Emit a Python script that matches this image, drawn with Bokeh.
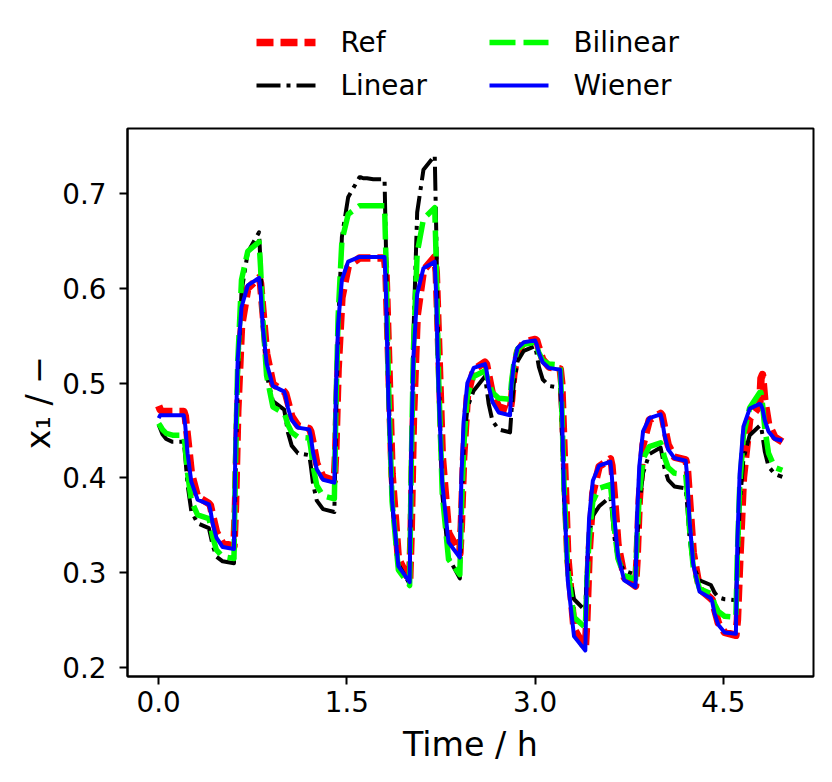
from bokeh.plotting import figure
from bokeh.layouts import column
from bokeh.models import Range1d, FixedTicker, PrintfTickFormatter
from bokeh.core.properties import value
from bokeh.embed import file_html
from bokeh.resources import INLINE

# ---------------- data ----------------
t_h = [
    0.0, 0.012, 0.03, 0.06, 0.11,
    0.2, 0.212, 0.23, 0.26, 0.31,
    0.4, 0.412, 0.43, 0.46, 0.51,
    0.6, 0.612, 0.63, 0.66, 0.71,
    0.8, 0.812, 0.83, 0.86, 0.91,
    1.0, 1.012, 1.03, 1.06, 1.11,
    1.2, 1.212, 1.23, 1.26, 1.31,
    1.4, 1.412, 1.43, 1.46, 1.51,
    1.6, 1.612, 1.63, 1.66, 1.71,
    1.8, 1.812, 1.83, 1.86, 1.91,
    2.0, 2.012, 2.03, 2.06, 2.11,
    2.2, 2.212, 2.23, 2.26, 2.31,
    2.4, 2.412, 2.43, 2.46, 2.51,
    2.6, 2.612, 2.63, 2.66, 2.71,
    2.8, 2.812, 2.83, 2.86, 2.91,
    3.0, 3.012, 3.03, 3.06, 3.11,
    3.2, 3.212, 3.23, 3.26, 3.31,
    3.4, 3.412, 3.43, 3.46, 3.51,
    3.6, 3.612, 3.63, 3.66, 3.71,
    3.8, 3.812, 3.83, 3.86, 3.91,
    4.0, 4.012, 4.03, 4.06, 4.11,
    4.2, 4.212, 4.23, 4.26, 4.31,
    4.4, 4.412, 4.43, 4.46, 4.51,
    4.6, 4.612, 4.63, 4.66, 4.71, 4.79,
    4.8, 4.812, 4.83, 4.86, 4.91,
    4.97,
]

ref_x1 = [
    0.476, 0.472, 0.470, 0.470, 0.470,
    0.470, 0.465, 0.443, 0.405, 0.380,
    0.373, 0.371, 0.360, 0.343, 0.331,
    0.328, 0.370, 0.470, 0.560, 0.600,
    0.611, 0.605, 0.577, 0.531, 0.499,
    0.491, 0.489, 0.480, 0.465, 0.455,
    0.452, 0.449, 0.437, 0.415, 0.401,
    0.397, 0.432, 0.515, 0.590, 0.623,
    0.632, 0.632, 0.632, 0.632, 0.632,
    0.632, 0.615, 0.537, 0.404, 0.315,
    0.291, 0.342, 0.462, 0.571, 0.619,
    0.633, 0.617, 0.545, 0.423, 0.342,
    0.320, 0.350, 0.421, 0.486, 0.514,
    0.522, 0.520, 0.508, 0.488, 0.475,
    0.471, 0.482, 0.509, 0.533, 0.543,
    0.546, 0.545, 0.537, 0.525, 0.517,
    0.515, 0.500, 0.432, 0.317, 0.241,
    0.220, 0.250, 0.320, 0.384, 0.412,
    0.420, 0.413, 0.383, 0.330, 0.295,
    0.286, 0.313, 0.377, 0.435, 0.461,
    0.468, 0.466, 0.454, 0.435, 0.422,
    0.419, 0.412, 0.378, 0.321, 0.283,
    0.273, 0.271, 0.262, 0.247, 0.237,
    0.234, 0.250, 0.310, 0.400, 0.462, 0.476,
    0.505, 0.509, 0.482, 0.457, 0.443,
    0.438,
]

lin_x1 = [
    0.456, 0.452, 0.446, 0.441, 0.438,
    0.438, 0.422, 0.393, 0.365, 0.352,
    0.347, 0.340, 0.329, 0.317, 0.312,
    0.310, 0.397, 0.502, 0.596, 0.638,
    0.659, 0.625, 0.566, 0.509, 0.481,
    0.472, 0.463, 0.448, 0.434, 0.426,
    0.424, 0.413, 0.394, 0.376, 0.367,
    0.364, 0.452, 0.558, 0.654, 0.696,
    0.717, 0.717, 0.716, 0.716, 0.715,
    0.715, 0.638, 0.502, 0.373, 0.309,
    0.288, 0.400, 0.550, 0.680, 0.725,
    0.740, 0.660, 0.517, 0.383, 0.316,
    0.294, 0.360, 0.430, 0.474, 0.492,
    0.507, 0.496, 0.478, 0.460, 0.451,
    0.448, 0.471, 0.499, 0.523, 0.534,
    0.539, 0.531, 0.517, 0.504, 0.497,
    0.495, 0.453, 0.378, 0.307, 0.272,
    0.260, 0.300, 0.340, 0.360, 0.370,
    0.380, 0.365, 0.339, 0.314, 0.302,
    0.298, 0.330, 0.370, 0.405, 0.425,
    0.432, 0.424, 0.411, 0.398, 0.391,
    0.389, 0.371, 0.338, 0.307, 0.292,
    0.287, 0.284, 0.279, 0.274, 0.272,
    0.271, 0.310, 0.370, 0.420, 0.445, 0.455,
    0.455, 0.445, 0.428, 0.412, 0.404,
    0.401,
]

bil_x1 = [
    0.4575, 0.455, 0.451, 0.447, 0.445,
    0.445, 0.432, 0.405, 0.376, 0.361,
    0.357, 0.351, 0.338, 0.324, 0.317,
    0.315, 0.415, 0.522, 0.609, 0.639,
    0.649, 0.622, 0.568, 0.508, 0.475,
    0.468, 0.464, 0.456, 0.448, 0.443,
    0.442, 0.432, 0.413, 0.392, 0.381,
    0.378, 0.471, 0.570, 0.650, 0.678,
    0.687, 0.687, 0.687, 0.687, 0.687,
    0.687, 0.627, 0.507, 0.375, 0.303,
    0.2865, 0.406, 0.534, 0.637, 0.673,
    0.685, 0.627, 0.511, 0.383, 0.314,
    0.298, 0.363, 0.431, 0.487, 0.507,
    0.513, 0.509, 0.500, 0.490, 0.484,
    0.483, 0.501, 0.520, 0.536, 0.541,
    0.543, 0.539, 0.532, 0.524, 0.520,
    0.519, 0.477, 0.394, 0.303, 0.253,
    0.242, 0.288, 0.336, 0.375, 0.389,
    0.393, 0.378, 0.348, 0.315, 0.297,
    0.293, 0.336, 0.382, 0.420, 0.433,
    0.437, 0.432, 0.422, 0.411, 0.405,
    0.4035, 0.385, 0.347, 0.306, 0.283,
    0.278, 0.274, 0.267, 0.259, 0.254,
    0.253, 0.320, 0.390, 0.445, 0.474, 0.490,
    0.490, 0.478, 0.453, 0.426, 0.411,
    0.408,
]

wie_x1 = [
    0.463, 0.466, 0.466, 0.466, 0.466,
    0.466, 0.455, 0.426, 0.396, 0.377,
    0.372, 0.366, 0.352, 0.337, 0.327,
    0.325, 0.440, 0.525, 0.580, 0.603,
    0.611, 0.597, 0.559, 0.521, 0.497,
    0.491, 0.486, 0.474, 0.461, 0.453,
    0.451, 0.444, 0.427, 0.409, 0.398,
    0.395, 0.490, 0.562, 0.609, 0.628,
    0.633, 0.633, 0.633, 0.633, 0.633,
    0.633, 0.592, 0.486, 0.376, 0.307,
    0.290, 0.425, 0.527, 0.594, 0.621,
    0.628, 0.591, 0.494, 0.394, 0.332,
    0.316, 0.398, 0.459, 0.500, 0.516,
    0.520, 0.514, 0.497, 0.480, 0.469,
    0.466, 0.498, 0.521, 0.537, 0.543,
    0.545, 0.541, 0.532, 0.522, 0.516,
    0.514, 0.479, 0.387, 0.292, 0.233,
    0.218, 0.298, 0.357, 0.397, 0.413,
    0.417, 0.401, 0.360, 0.318, 0.292,
    0.285, 0.358, 0.412, 0.449, 0.463,
    0.467, 0.461, 0.446, 0.430, 0.421,
    0.418, 0.401, 0.356, 0.309, 0.280,
    0.273, 0.269, 0.257, 0.245, 0.237,
    0.2355, 0.333, 0.405, 0.454, 0.473, 0.478,
    0.477, 0.473, 0.461, 0.449, 0.441,
    0.4395,
]

series_names = ["Ref", "Linear", "Bilinear", "Wiener"]
x_ticks = [0.0, 1.5, 3.0, 4.5]
y_ticks = [0.2, 0.3, 0.4, 0.5, 0.6, 0.7]
x_label = "Time / h"
y_label = "x\u2081 / \u2212"

# ---------------- styles ----------------
FONT = "DejaVu Sans"
styles = [
    dict(line_color="#ff0000", line_width=7.5, line_dash="17 7"),
    dict(line_color="#000000", line_width=4, line_dash="24 6 4 6"),
    dict(line_color="#00ff00", line_width=5.5, line_dash="26 8"),
    dict(line_color="#0000ff", line_width=4, line_dash="solid"),
]

# ---------------- main figure ----------------
p = figure(width=832, height=662, output_backend="svg", toolbar_location=None,
           x_range=Range1d(-0.2485, 5.2185), y_range=Range1d(0.1905, 0.7685),
           min_border_left=127, min_border_right=19, min_border_top=8,
           min_border_bottom=106)

p.background_fill_color = "white"
p.border_fill_color = "white"
p.outline_line_color = "black"
p.outline_line_width = 2
p.outline_line_alpha = 1.0
p.xgrid.visible = False
p.ygrid.visible = False

for ys, st in zip([ref_x1, lin_x1, bil_x1, wie_x1], styles):
    p.line(t_h, ys, line_join="round", **st)

p.xaxis.ticker = FixedTicker(ticks=x_ticks)
p.yaxis.ticker = FixedTicker(ticks=y_ticks)
p.xaxis.formatter = PrintfTickFormatter(format="%.1f")
p.yaxis.formatter = PrintfTickFormatter(format="%.1f")
p.xaxis.axis_label = x_label
p.yaxis.axis_label = y_label

for ax in (p.xaxis[0], p.yaxis[0]):
    ax.axis_line_color = "black"
    ax.axis_line_width = 2
    ax.major_tick_line_color = "black"
    ax.major_tick_line_width = 2
    ax.major_tick_out = 8
    ax.major_tick_in = 0
    ax.minor_tick_out = 0
    ax.minor_tick_in = 0
    ax.major_label_text_font = FONT
    ax.major_label_text_font_size = "27.8px"
    ax.major_label_text_color = "black"
    ax.axis_label_text_font = FONT
    ax.axis_label_text_font_size = "33.3px"
    ax.axis_label_text_font_style = "normal"
    ax.axis_label_text_color = "black"

p.xaxis.major_label_standoff = 6
p.yaxis.major_label_standoff = 13
p.xaxis.axis_label_standoff = 10
p.yaxis.axis_label_standoff = 1

# ---------------- legend strip above the axes ----------------
# the column layout aligns this strip's frame with the main frame (page x 127..813),
# so the strip's x range is expressed in page pixels over that span.
lg = figure(width=832, height=120, output_backend="svg", toolbar_location=None,
            x_range=Range1d(127, 813), y_range=Range1d(120, 0),
            x_axis_type=None, y_axis_type=None, min_border=0)
lg.outline_line_color = None
lg.background_fill_color = "white"
lg.border_fill_color = "white"
lg.xgrid.visible = False
lg.ygrid.visible = False

handle_x = [256, 256, 489, 489]
handle_y = [42, 85, 42, 85]
handle_len = 59
label_gap = 84

for hx, hy, st in zip(handle_x, handle_y, styles):
    lg.segment(x0=[hx], y0=[hy], x1=[hx + handle_len], y1=[hy], **st)

lg.text(x=[hx + label_gap for hx in handle_x], y=handle_y, text=series_names,
        text_font=value(FONT), text_font_size="27.8px", text_color="black",
        text_align="left", text_baseline="middle")

layout = column(lg, p, spacing=0)
open("out.html", "w").write(file_html(layout, INLINE))
